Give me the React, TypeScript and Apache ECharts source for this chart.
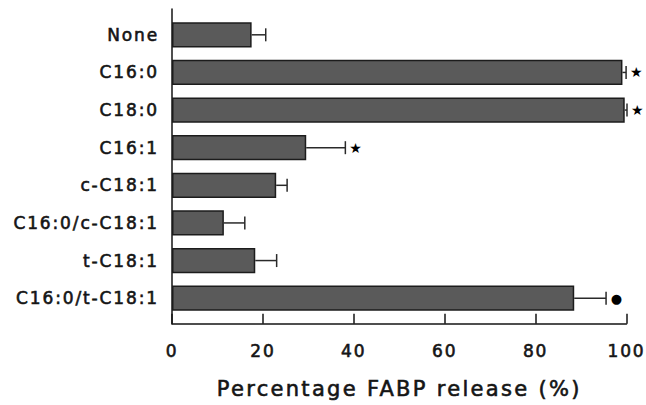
import React, { useEffect, useRef } from "react";
import * as echarts from "echarts";

const categories = ["None", "C16:0", "C18:0", "C16:1", "c-C18:1", "C16:0/c-C18:1", "t-C18:1", "C16:0/t-C18:1"];
const values = [17.5, 99.0, 99.5, 29.5, 22.9, 11.4, 18.3, 88.4];
const errors = [3.1, 0.8, 0.5, 8.6, 2.4, 4.6, 4.7, 7.0];
const marks = ["", "★", "★", "★", "", "", "", "●"];
const xMin = 0;
const xMax = 100;
const xInterval = 20;
const axisTitle = "Percentage FABP release (%)";

const FONT = "DejaVu Sans";
const INK = "#151515";
const thick = { textBorderColor: INK, textBorderWidth: 0.6 };

export default function App() {
  const ref = useRef<HTMLDivElement>(null);
  useEffect(() => {
    if (!ref.current) return;
    const chart = echarts.init(ref.current, null, { renderer: "svg" });
    const errData = values.map((v, i) => [v, i, errors[i]]);
    chart.setOption({
      animation: false,
      backgroundColor: "#ffffff",
      grid: [
        { left: 172, right: 19, top: 9, bottom: 81 },
        { left: 172, right: 19, top: 16, bottom: 88 },
      ],
      xAxis: [
        {
          gridIndex: 0,
          type: "value",
          min: xMin,
          max: xMax,
          interval: xInterval,
          axisLine: { show: true, lineStyle: { color: INK, width: 1.5 } },
          axisTick: { show: true, inside: true, length: 10, lineStyle: { color: INK, width: 1.5 } },
          axisLabel: { color: INK, fontFamily: FONT, fontSize: 17, margin: 19, ...thick },
          splitLine: { show: false },
          name: axisTitle,
          nameLocation: "middle",
          nameGap: 55,
          nameTextStyle: { color: INK, fontFamily: FONT, fontSize: 21, ...thick },
        },
        {
          gridIndex: 1,
          type: "value",
          min: xMin,
          max: xMax,
          show: false,
        },
      ],
      yAxis: [
        {
          gridIndex: 0,
          type: "value",
          min: 0,
          max: 1,
          axisLine: { show: true, lineStyle: { color: INK, width: 1.5 } },
          axisTick: { show: false },
          axisLabel: { show: false },
          splitLine: { show: false },
        },
        {
          gridIndex: 1,
          type: "category",
          inverse: true,
          data: categories,
          axisLine: { show: false },
          axisTick: { show: false },
          axisLabel: {
            color: INK,
            fontFamily: FONT,
            fontSize: 17,
            margin: 13,
            padding: [8, 0, 0, 0],
            ...thick,
          },
        },
      ],
      series: [
        {
          type: "bar",
          xAxisIndex: 1,
          yAxisIndex: 1,
          data: values,
          barCategoryGap: "33%",
          itemStyle: { color: "#5a5a5a", borderColor: "#1c1c1c", borderWidth: 1.5 },
        },
        {
          type: "custom",
          xAxisIndex: 1,
          yAxisIndex: 1,
          data: errData,
          encode: { x: 0, y: 1 },
          renderItem: (params: any, api: any) => {
            const v = api.value(0);
            const c = api.value(1);
            const e = api.value(2);
            const s = api.coord([v, c]);
            const t = api.coord([v + e, c]);
            const half = 6.5;
            const style = { stroke: "#2a2a2a", lineWidth: 1.5 };
            const children: any[] = [
              { type: "line", shape: { x1: s[0], y1: s[1], x2: t[0], y2: t[1] }, style },
              { type: "line", shape: { x1: t[0], y1: t[1] - half, x2: t[0], y2: t[1] + half }, style },
            ];
            const m = marks[params.dataIndex];
            if (m) {
              children.push({
                type: "text",
                x: t[0] + 11,
                y: t[1],
                style: {
                  text: m,
                  fill: "#000",
                  font: `${m === "●" ? 13 : 14}px "${FONT}"`,
                  align: "center",
                  verticalAlign: "middle",
                },
              });
            }
            return { type: "group", children };
          },
        },
      ],
    });
    return () => chart.dispose();
  }, []);
  return (
    <>
      <style>{`.fabp-chart svg text { letter-spacing: 0.11em; }`}</style>
      <div
        ref={ref}
        className="fabp-chart"
        style={{ width: 646, height: 405, position: "absolute", left: 0, top: 0 }}
      />
    </>
  );
}
